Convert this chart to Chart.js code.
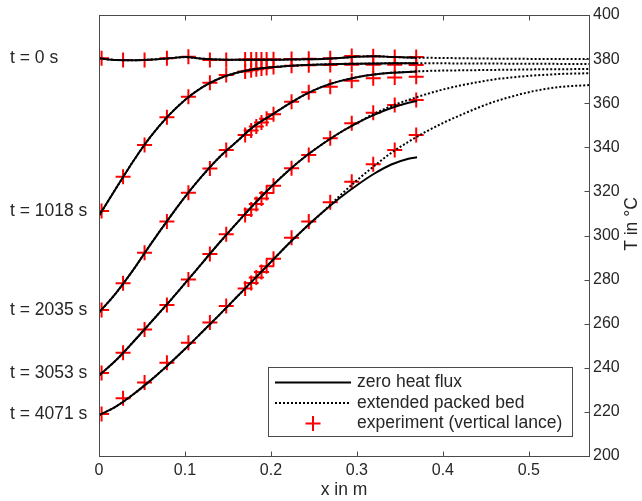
<!DOCTYPE html>
<html>
<head>
<meta charset="utf-8">
<script src="https://cdn.jsdelivr.net/npm/chart.js@4.4.1/dist/chart.umd.min.js"></script>
<style>
    body { margin: 0; background: #fff; }
</style>
</head>
<body>
<canvas id="bed-temp-chart" width="642" height="501"></canvas>
<script>
// time steps (label on the left of each profile)
var time_labels = ['t = 0 s', 't = 1018 s', 't = 2035 s', 't = 3053 s', 't = 4071 s'];
var legend_labels = ['zero heat flux', 'extended packed bed', 'experiment (vertical lance)'];

// x positions in m
var x_solid = [0, 0.02, 0.04, 0.06, 0.08, 0.10, 0.12, 0.14, 0.16, 0.18, 0.20, 0.22, 0.24, 0.26, 0.28, 0.30, 0.32, 0.34, 0.36, 0.37];
var x_dotted = [0, 0.02, 0.04, 0.06, 0.08, 0.10, 0.12, 0.14, 0.16, 0.18, 0.20, 0.22, 0.24, 0.26, 0.28, 0.30, 0.32, 0.34, 0.36,
                0.38, 0.40, 0.42, 0.44, 0.46, 0.48, 0.50, 0.52, 0.54, 0.56, 0.57];
var x_exp = [0.003, 0.028, 0.053, 0.079, 0.104, 0.129, 0.148, 0.170, 0.177, 0.183, 0.189, 0.195, 0.203, 0.224, 0.244, 0.269, 0.294, 0.319, 0.344, 0.369];

// zero heat flux (solid), T in degC
var solid_0    = [380.4, 379.6, 379.5, 379.8, 380.3, 380.9, 380.2, 379.8, 379.7, 379.7, 379.7, 379.8, 379.9, 380.1, 380.5, 381.1, 381.3, 381.0, 380.7, 380.6];
var solid_1018 = [309.0, 321.5, 333.8, 344.8, 354.0, 361.5, 367.2, 371.2, 373.8, 375.4, 376.3, 376.9, 377.3, 377.6, 377.8, 377.9, 378.0, 378.1, 378.1, 378.1];
var solid_2035 = [265.0, 274.0, 284.5, 296.0, 307.0, 317.5, 327.0, 335.5, 342.5, 349.5, 354.5, 359.5, 364.0, 367.5, 370.0, 371.8, 373.0, 373.8, 374.2, 374.4];
var solid_3053 = [236.5, 243.5, 251.8, 260.5, 269.2, 278.3, 287.5, 296.7, 305.5, 314.0, 322.0, 329.3, 335.8, 341.5, 346.6, 351.0, 354.7, 357.8, 360.2, 361.0];
var solid_4071 = [218.5, 222.5, 228.0, 234.3, 241.2, 248.5, 256.2, 264.0, 272.0, 280.0, 288.0, 296.0, 303.5, 310.5, 317.0, 322.8, 328.0, 332.2, 334.8, 335.5];

// extended packed bed (dotted)
var dotted_0    = [380.4, 379.6, 379.5, 379.8, 380.3, 380.9, 380.2, 379.8, 379.7, 379.7, 379.7, 379.8, 379.9, 380.1, 380.5, 381.1, 381.3, 381.0, 380.7,
                   380.6, 380.5, 380.4, 380.3, 380.2, 380.2, 380.1, 380.1, 380.0, 380.0, 380.0];
var dotted_1018 = [309.0, 321.5, 333.8, 344.8, 354.0, 361.5, 367.2, 371.2, 373.8, 375.4, 376.3, 376.9, 377.3, 377.6, 377.8, 377.9, 378.0, 378.1, 378.1,
                   378.1, 378.1, 378.0, 378.0, 378.0, 377.9, 377.9, 377.9, 377.8, 377.8, 377.8];
var dotted_2035 = [265.0, 274.0, 284.5, 296.0, 307.0, 317.5, 327.0, 335.5, 342.5, 349.5, 354.5, 359.5, 364.0, 367.5, 370.0, 371.8, 373.0, 373.8, 374.2,
                   374.6, 374.8, 374.9, 375.0, 375.1, 375.2, 375.3, 375.4, 375.4, 375.5, 375.5];
var dotted_3053 = [236.5, 243.5, 251.8, 260.5, 269.2, 278.3, 287.5, 296.7, 305.5, 314.0, 322.0, 329.3, 335.8, 341.5, 346.6, 351.0, 355.2, 358.7, 361.5,
                   364.0, 366.2, 368.0, 369.5, 370.8, 371.7, 372.4, 372.9, 373.3, 373.5, 373.6];
var dotted_4071 = [218.5, 222.5, 228.0, 234.3, 241.2, 248.5, 256.2, 264.0, 272.0, 280.0, 288.0, 296.0, 303.5, 310.5, 318.0, 325.0, 331.5, 337.5, 342.5,
                   347.0, 351.0, 354.5, 357.8, 360.7, 363.0, 365.0, 366.5, 367.5, 368.0, 368.2];

// experiment (vertical lance)
var exp_0    = [380.4, 379.6, 379.6, 380.4, 381.1, 379.6, 379.6, 379.8, 379.8, 379.8, 379.8, 379.8, 379.9, 380.0, 380.2, 380.4, 381.4, 381.3, 380.9, 381.0];
var exp_1018 = [311.1, 326.7, 341.0, 353.6, 362.9, 369.3, 372.8, 374.4, 375.0, 375.4, 375.7, 376.0, 376.4, 377.0, 377.2, 377.3, 377.4, 377.4, 377.4, 377.3];
var exp_2035 = [266.2, 278.3, 292.2, 306.3, 319.4, 330.4, 338.8, 345.6, 347.6, 349.4, 351.2, 352.9, 355.0, 360.7, 365.0, 367.5, 370.2, 371.3, 371.7, 372.0];
var exp_3053 = [237.6, 246.8, 257.4, 268.5, 280.1, 291.6, 300.6, 309.3, 311.8, 314.3, 316.8, 319.3, 322.6, 330.5, 336.5, 344.1, 350.9, 355.7, 359.2, 361.5];
var exp_4071 = [219.0, 226.2, 233.3, 242.3, 251.4, 260.5, 268.0, 276.0, 278.5, 281.0, 283.5, 286.0, 289.5, 299.0, 306.3, 315.1, 324.4, 332.3, 338.8, 345.6];

// axis ticks
var x_ticks = [0, 0.1, 0.2, 0.3, 0.4, 0.5];
var y_ticks = [200, 220, 240, 260, 280, 300, 320, 340, 360, 380, 400];

var solid_series = [solid_0, solid_1018, solid_2035, solid_3053, solid_4071];
var dotted_series = [dotted_0, dotted_1018, dotted_2035, dotted_3053, dotted_4071];
var exp_series = [exp_0, exp_1018, exp_2035, exp_3053, exp_4071];

var FONT = "'Liberation Sans', Arial, Helvetica, sans-serif";
var TEXT_COLOR = '#262626';
var AXIS_COLOR = '#4a4a4a';

function toPoints(xs, ys) {
    return ys.map(function (y, i) { return { x: xs[i], y: y }; });
}

var chart_items = [];
for (var i = 0; i < time_labels.length; i++) {
    chart_items.push({
        label: legend_labels[0] + ' ' + time_labels[i],
        data: toPoints(x_solid, solid_series[i]),
        showLine: true,
        borderColor: '#000',
        borderWidth: 2,
        pointRadius: 0,
        cubicInterpolationMode: 'monotone',
        order: 0
    });
    chart_items.push({
        label: legend_labels[1] + ' ' + time_labels[i],
        data: toPoints(x_dotted, dotted_series[i]),
        showLine: true,
        borderColor: '#000',
        borderWidth: 2,
        borderDash: [2, 2],
        pointRadius: 0,
        cubicInterpolationMode: 'monotone',
        order: 1
    });
    chart_items.push({
        label: legend_labels[2] + ' ' + time_labels[i],
        data: toPoints(x_exp, exp_series[i]),
        showLine: false,
        pointStyle: 'cross',
        pointRadius: 7.5,
        pointHoverRadius: 7.5,
        borderColor: '#ff0000',
        backgroundColor: '#ff0000',
        borderWidth: 2,
        order: 2
    });
}

// box, inward ticks, axis titles, time labels and legend
var frameDecor = {
    id: 'frameDecor',
    afterDraw: function (chart) {
        var ctx = chart.ctx;
        var area = chart.chartArea;
        var xs = chart.scales.x;
        var ys = chart.scales.y;
        var tickLen = 5;

        ctx.save();
        ctx.strokeStyle = AXIS_COLOR;
        ctx.lineWidth = 1;
        var l = Math.round(area.left) + 0.5, r = Math.round(area.right) + 0.5;
        var t = Math.round(area.top) + 0.5, b = Math.round(area.bottom) + 0.5;
        ctx.strokeRect(l, t, r - l, b - t);

        ctx.beginPath();
        x_ticks.forEach(function (v) {
            var px = Math.round(xs.getPixelForValue(v)) + 0.5;
            ctx.moveTo(px, b); ctx.lineTo(px, b - tickLen);
            ctx.moveTo(px, t); ctx.lineTo(px, t + tickLen);
        });
        y_ticks.forEach(function (v) {
            var py = Math.round(ys.getPixelForValue(v)) + 0.5;
            ctx.moveTo(r, py); ctx.lineTo(r - tickLen, py);
        });
        ctx.stroke();

        // axis titles
        ctx.fillStyle = TEXT_COLOR;
        ctx.font = '17.5px ' + FONT;
        ctx.textAlign = 'center';
        ctx.textBaseline = 'middle';
        ctx.fillText('x in m', (area.left + area.right) / 2, 490);
        ctx.save();
        ctx.translate(632, 224);
        ctx.rotate(-Math.PI / 2);
        ctx.fillText('T in \u00B0C', 0, 0);
        ctx.restore();

        // time labels at the first measured value
        ctx.textAlign = 'left';
        for (var i = 0; i < time_labels.length; i++) {
            ctx.fillText(time_labels[i], 10, ys.getPixelForValue(exp_series[i][0]));
        }

        // legend
        var bx = 268.5, by = 367.5, bw = 304, bh = 69;
        ctx.fillStyle = '#fff';
        ctx.fillRect(bx, by, bw, bh);
        ctx.strokeStyle = AXIS_COLOR;
        ctx.lineWidth = 1;
        ctx.strokeRect(bx, by, bw, bh);

        var rows = [382.5, 403, 423.5];
        ctx.strokeStyle = '#000';
        ctx.lineWidth = 2;
        ctx.beginPath();
        ctx.moveTo(275, rows[0]); ctx.lineTo(351, rows[0]);
        ctx.stroke();
        ctx.setLineDash([2, 2]);
        ctx.beginPath();
        ctx.moveTo(275, rows[1]); ctx.lineTo(351, rows[1]);
        ctx.stroke();
        ctx.setLineDash([]);
        ctx.strokeStyle = '#ff0000';
        ctx.beginPath();
        ctx.moveTo(313 - 7.5, rows[2]); ctx.lineTo(313 + 7.5, rows[2]);
        ctx.moveTo(313, rows[2] - 7.5); ctx.lineTo(313, rows[2] + 7.5);
        ctx.stroke();

        ctx.fillStyle = TEXT_COLOR;
        ctx.font = '17.5px ' + FONT;
        for (var k = 0; k < legend_labels.length; k++) {
            ctx.fillText(legend_labels[k], 357, rows[k]);
        }
        ctx.restore();
    }
};

var ctx = document.getElementById('bed-temp-chart');
var BedTempChart = new Chart(ctx, {
    type: 'scatter',
    data: { datasets: chart_items },
    plugins: [frameDecor],
    options: {
        responsive: false,
        animation: false,
        events: [],
        layout: { padding: { left: 99, top: 15, right: 0, bottom: 0 } },
        plugins: {
            legend: { display: false },
            tooltip: { enabled: false }
        },
        scales: {
            x: {
                type: 'linear',
                position: 'bottom',
                min: 0,
                max: 0.57,
                grid: { display: false, drawTicks: false },
                border: { display: false },
                afterFit: function (scale) { scale.height = 45; },
                afterBuildTicks: function (scale) {
                    scale.ticks = x_ticks.map(function (v) { return { value: v }; });
                },
                ticks: {
                    padding: 5,
                    color: TEXT_COLOR,
                    font: { family: FONT, size: 16 },
                    callback: function (v) { return String(Math.round(v * 10) / 10); }
                }
            },
            y: {
                type: 'linear',
                position: 'right',
                min: 200,
                max: 400,
                grid: { display: false, drawTicks: false },
                border: { display: false },
                afterFit: function (scale) { scale.width = 53; },
                afterBuildTicks: function (scale) {
                    scale.ticks = y_ticks.map(function (v) { return { value: v }; });
                },
                ticks: {
                    padding: 4,
                    color: TEXT_COLOR,
                    font: { family: FONT, size: 16 }
                }
            }
        }
    }
});
</script>
</body>
</html>
